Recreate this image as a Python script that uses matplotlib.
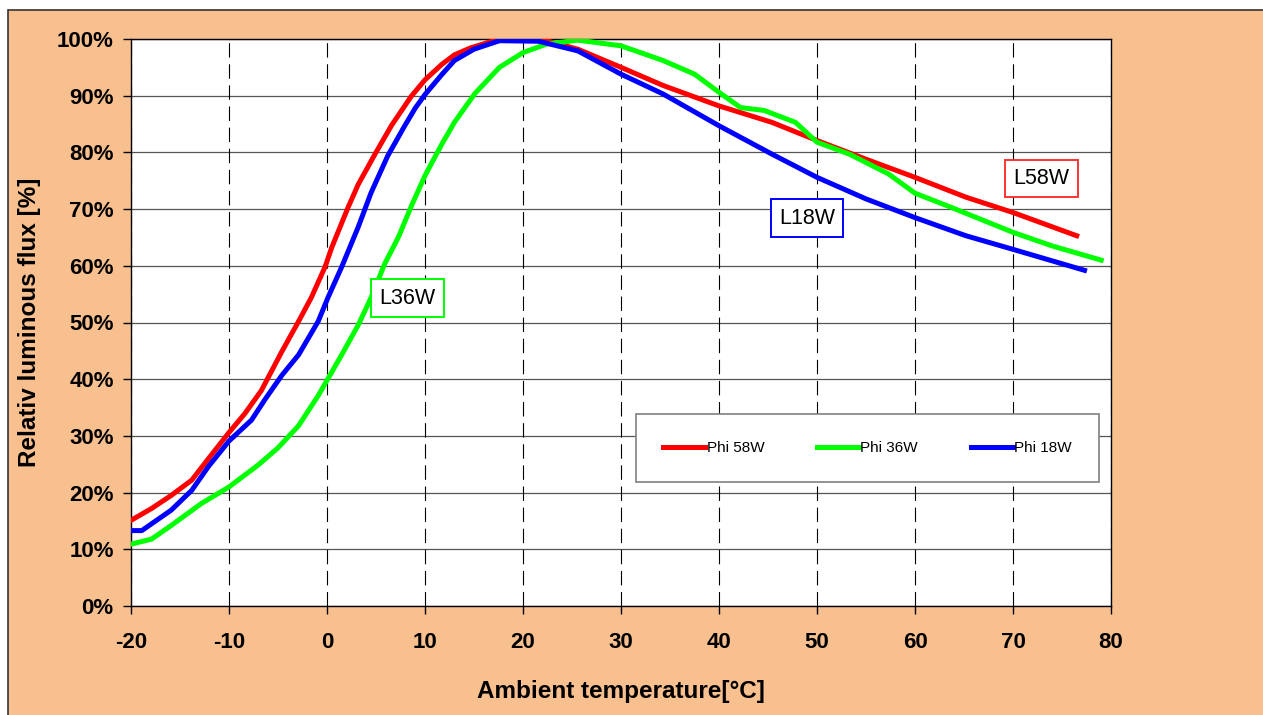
import matplotlib
matplotlib.use("Agg")
import matplotlib.pyplot as plt
from matplotlib.patches import Rectangle

# data
temp_58w = [-20, -17.9, -15.9, -13.8, -12.0, -10, -8.4, -6.7, -4.6, -2.9, -1.6, -0.2, 0.5,
            2.2, 3.2, 4.9, 6.6, 8.6, 10.0, 11.7, 13.0, 14.6, 17, 20, 22.4, 25.6, 30, 34.3,
            40, 45.4, 50, 55, 60, 65.2, 70, 76.5]
flux_58w = [15.1, 17.2, 19.5, 22.2, 26.2, 30.6, 33.9, 38.0, 44.9, 50.2, 54.4, 59.8, 63.3,
            70.5, 74.4, 79.7, 84.8, 89.9, 92.8, 95.5, 97.2, 98.4, 99.7, 99.8, 99.7, 98.2,
            95.0, 91.8, 88.2, 85.3, 82.1, 78.8, 75.6, 72.1, 69.4, 65.3]

temp_36w = [-20, -17.9, -15.9, -12.8, -10, -7.0, -5.0, -2.9, -0.9, 0, 1.5, 3.2, 4.5, 5.9,
            7.3, 8.6, 10.0, 11.7, 13.0, 15.1, 17.6, 20, 22.4, 25.6, 30, 34.3, 37.5, 40,
            42.2, 44.6, 47.8, 50, 53.3, 57.3, 60, 63.7, 70, 74, 79.0]
flux_36w = [10.9, 11.8, 14.2, 18.1, 21.0, 24.9, 27.9, 31.8, 37.1, 39.8, 44.3, 49.6, 54.4,
            60.4, 65.1, 70.5, 75.9, 81.4, 85.3, 90.4, 95.0, 97.6, 99.1, 99.8, 98.8, 96.2,
            93.8, 90.6, 87.9, 87.4, 85.3, 81.8, 79.7, 76.2, 72.8, 70.3, 65.9, 63.5, 61.0]

temp_18w = [-20, -18.9, -15.9, -13.8, -12.1, -10, -7.7, -6.3, -4.6, -2.9, -0.9, 0.1, 1.5,
            3.2, 4.5, 6.2, 7.9, 9.0, 10.0, 11.7, 13.0, 15, 17.6, 21.6, 25.6, 30, 34.3, 40,
            45.4, 50, 55, 60, 65.2, 70, 77.3]
flux_18w = [13.3, 13.3, 16.9, 20.4, 24.6, 29.1, 32.8, 36.5, 40.7, 44.3, 50.2, 54.4, 59.8,
            66.9, 72.9, 79.4, 84.6, 87.8, 90.2, 93.7, 96.2, 98.2, 99.7, 99.6, 97.9, 93.8,
            90.3, 84.7, 79.7, 75.6, 71.8, 68.5, 65.3, 62.9, 59.2]

x_ticks = [-20, -10, 0, 10, 20, 30, 40, 50, 60, 70, 80]
y_ticks = [0, 10, 20, 30, 40, 50, 60, 70, 80, 90, 100]

plt.rcParams['font.family'] = ['Liberation Sans', 'DejaVu Sans']
plt.rcParams['axes.unicode_minus'] = False

W, H = 1263, 715
fig = plt.figure(figsize=(W / 100, H / 100), dpi=100, facecolor='white')
fig.patches.append(Rectangle((8 / W, -0.05), 1.1, 1.05 - 10 / H, transform=fig.transFigure,
                             facecolor='#F8C08F', edgecolor='#333333', lw=1.2, zorder=-10))

ax = fig.add_axes([131 / W, 1 - 606 / H, 980 / W, 567 / H])
ax.set_facecolor('white')

for yv in y_ticks:
    ax.axhline(yv, color='#555555', lw=0.9, zorder=1)
for xv in x_ticks:
    ax.axvline(xv, color='black', lw=0.8, dashes=(13, 6), zorder=1)

ax.plot(temp_58w, flux_58w, color='#FF0000', lw=3.6, label='Phi 58W', zorder=3,
        solid_joinstyle='round')
ax.plot(temp_36w, flux_36w, color='#00FF00', lw=3.6, label='Phi 36W', zorder=3,
        solid_joinstyle='round')
ax.plot(temp_18w, flux_18w, color='#0000FF', lw=3.6, label='Phi 18W', zorder=3,
        solid_joinstyle='round')

ax.set_xlim(-20, 80)
ax.set_ylim(0, 100)
ax.set_xticks(x_ticks)
ax.set_yticks(y_ticks)
ax.set_yticklabels([f'{v}%' for v in y_ticks])
ax.tick_params(axis='both', direction='out', length=5.5, width=1, labelsize=16)
ax.tick_params(axis='x', pad=13)
ax.tick_params(axis='y', pad=7)
for lab in ax.get_xticklabels() + ax.get_yticklabels():
    lab.set_fontweight('bold')
for sp in ax.spines.values():
    sp.set_color('black')
    sp.set_linewidth(1.0)

ax.set_xlabel('Ambient temperature[°C]', fontsize=17.5, fontweight='bold', labelpad=20)
ax.set_ylabel('Relativ luminous flux [%]', fontsize=17.5, fontweight='bold', labelpad=11)

leg = ax.legend(loc='center', bbox_to_anchor=(0.7515, 0.2787), ncol=3, fontsize=11,
                handlelength=2.75, handletextpad=0.1, columnspacing=3.45, borderpad=1.75,
                fancybox=False, framealpha=1, edgecolor='#808080')
leg.get_frame().set_linewidth(1.2)
leg.set_zorder(5)

ax.text(8.2, 54.3, 'L36W', fontsize=15.5, ha='center', va='center', zorder=6,
        bbox=dict(boxstyle='square,pad=0.38', fc='white', ec='#00FF00', lw=1.4))
ax.text(49.0, 68.4, 'L18W', fontsize=15.5, ha='center', va='center', zorder=6,
        bbox=dict(boxstyle='square,pad=0.38', fc='white', ec='#0000FF', lw=1.4))
ax.text(72.9, 75.4, 'L58W', fontsize=15.5, ha='center', va='center', zorder=6,
        bbox=dict(boxstyle='square,pad=0.38', fc='white', ec='#FF3333', lw=1.4))

fig.savefig('out.png', dpi=100, facecolor=fig.get_facecolor())
